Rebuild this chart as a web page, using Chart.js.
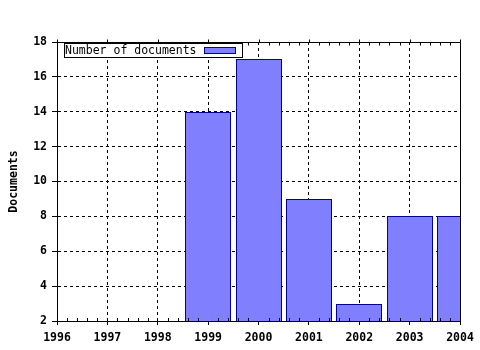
<!DOCTYPE html>
<html>
<head>
<meta charset="utf-8">
<script src="https://cdn.jsdelivr.net/npm/chart.js@4/dist/chart.umd.min.js"></script>
<style>
  html, body { margin: 0; padding: 0; background: #fff; }
  #wrap { width: 480px; height: 350px; }
</style>
</head>
<body>
<div id="wrap"><canvas id="docChart"></canvas></div>
<script>
// data
const years = [1999, 2000, 2001, 2002, 2003, 2004];
const docCounts = [14, 17, 9, 3, 8, 8];
const seriesLabel = "Number of documents";
const yTitle = "Documents";

const FONT = "'DejaVu Sans Mono', monospace";

// snap bar edges to whole pixels so the 1px outline stays crisp
const snapPlugin = {
  id: "snapBars",
  beforeDatasetsDraw(chart) {
    chart.getDatasetMeta(0).data.forEach((bar) => {
      const w = Math.round(bar.width);
      bar.x = Math.round(bar.x - w / 2) + w / 2;
      bar.width = w;
      bar.y = Math.round(bar.y);
    });
  }
};

// frame, minor ticks and the boxed legend inside the plot
const framePlugin = {
  id: "frame",
  afterDraw(chart) {
    const { ctx, chartArea: a, scales } = chart;
    const x = scales.x;
    const top = Math.round(a.top) + 0.5;
    const right = Math.round(a.right) + 0.5;
    ctx.save();
    ctx.strokeStyle = "#000";
    ctx.lineWidth = 1;
    ctx.beginPath();
    ctx.moveTo(a.left, top);
    ctx.lineTo(right, top);
    ctx.lineTo(right, a.bottom);
    ctx.stroke();

    // minor ticks, 5 per year
    ctx.beginPath();
    for (let v = x.min; v <= x.max + 0.001; v += 0.2) {
      const px = Math.round(x.getPixelForValue(v)) + 0.5;
      const major = Math.abs(v - Math.round(v)) < 0.01;
      if (major) {
        ctx.moveTo(px, top - 3);
        ctx.lineTo(px, top);
      } else {
        ctx.moveTo(px, top);
        ctx.lineTo(px, top + 3);
        ctx.moveTo(px, a.bottom);
        ctx.lineTo(px, a.bottom - 3);
      }
    }
    ctx.stroke();

    // legend
    const lx = 64, ly = 43, lw = 178, lh = 14;
    ctx.fillStyle = "#fff";
    ctx.fillRect(lx, ly, lw, lh);
    ctx.strokeRect(lx + 0.5, ly + 0.5, lw, lh);
    ctx.fillStyle = "#000";
    ctx.font = "11.5px " + FONT;
    ctx.textBaseline = "middle";
    ctx.textAlign = "left";
    ctx.fillText(seriesLabel, lx + 1, ly + lh / 2 + 1);
    ctx.fillStyle = "#8080ff";
    ctx.fillRect(204, 47, 31, 6);
    ctx.strokeStyle = "#0000a0";
    ctx.strokeRect(204.5, 47.5, 31, 6);
    ctx.restore();
  }
};

new Chart(document.getElementById("docChart"), {
  type: "bar",
  data: {
    datasets: [
      {
        label: seriesLabel,
        data: years.map((yr, i) => ({ x: yr, y: docCounts[i] })),
        backgroundColor: "#8080ff",
        borderColor: "#0000a0",
        borderWidth: 1,
        inflateAmount: 0,
        barPercentage: 0.915,
        categoryPercentage: 1.0,
      },
    ],
  },
  options: {
    responsive: true,
    maintainAspectRatio: false,
    animation: false,
    layout: { padding: { top: 42, right: 20, left: 0, bottom: 0 } },
    plugins: {
      legend: { display: false },
      tooltip: { enabled: false },
    },
    scales: {
      x: {
        type: "linear",
        min: 1996,
        max: 2004,
        offset: false,
        afterFit: (s) => { s.height = 29; },
        grid: {
          offset: false,
          color: "#000",
          tickLength: 4,
        },
        border: { color: "#000", dash: [3, 3] },
        ticks: {
          stepSize: 1,
          autoSkip: false,
          maxRotation: 0,
          padding: 6,
          color: "#000",
          font: { family: FONT, size: 11.5, weight: "bold" },
          callback: (v) => String(v),
        },
      },
      y: {
        min: 2,
        max: 18,
        beginAtZero: false,
        afterFit: (s) => { s.width = 57; },
        grid: {
          color: "#000",
          tickLength: 5,
        },
        border: { color: "#000", dash: [3, 3] },
        ticks: {
          stepSize: 2,
          padding: 5,
          color: "#000",
          font: { family: FONT, size: 11.5, weight: "bold" },
        },
        title: {
          display: true,
          text: yTitle,
          color: "#000",
          padding: { top: 7, bottom: 0 },
          font: { family: FONT, size: 11.5, weight: "bold" },
        },
      },
    },
  },
  plugins: [snapPlugin, framePlugin],
});
</script>
</body>
</html>
